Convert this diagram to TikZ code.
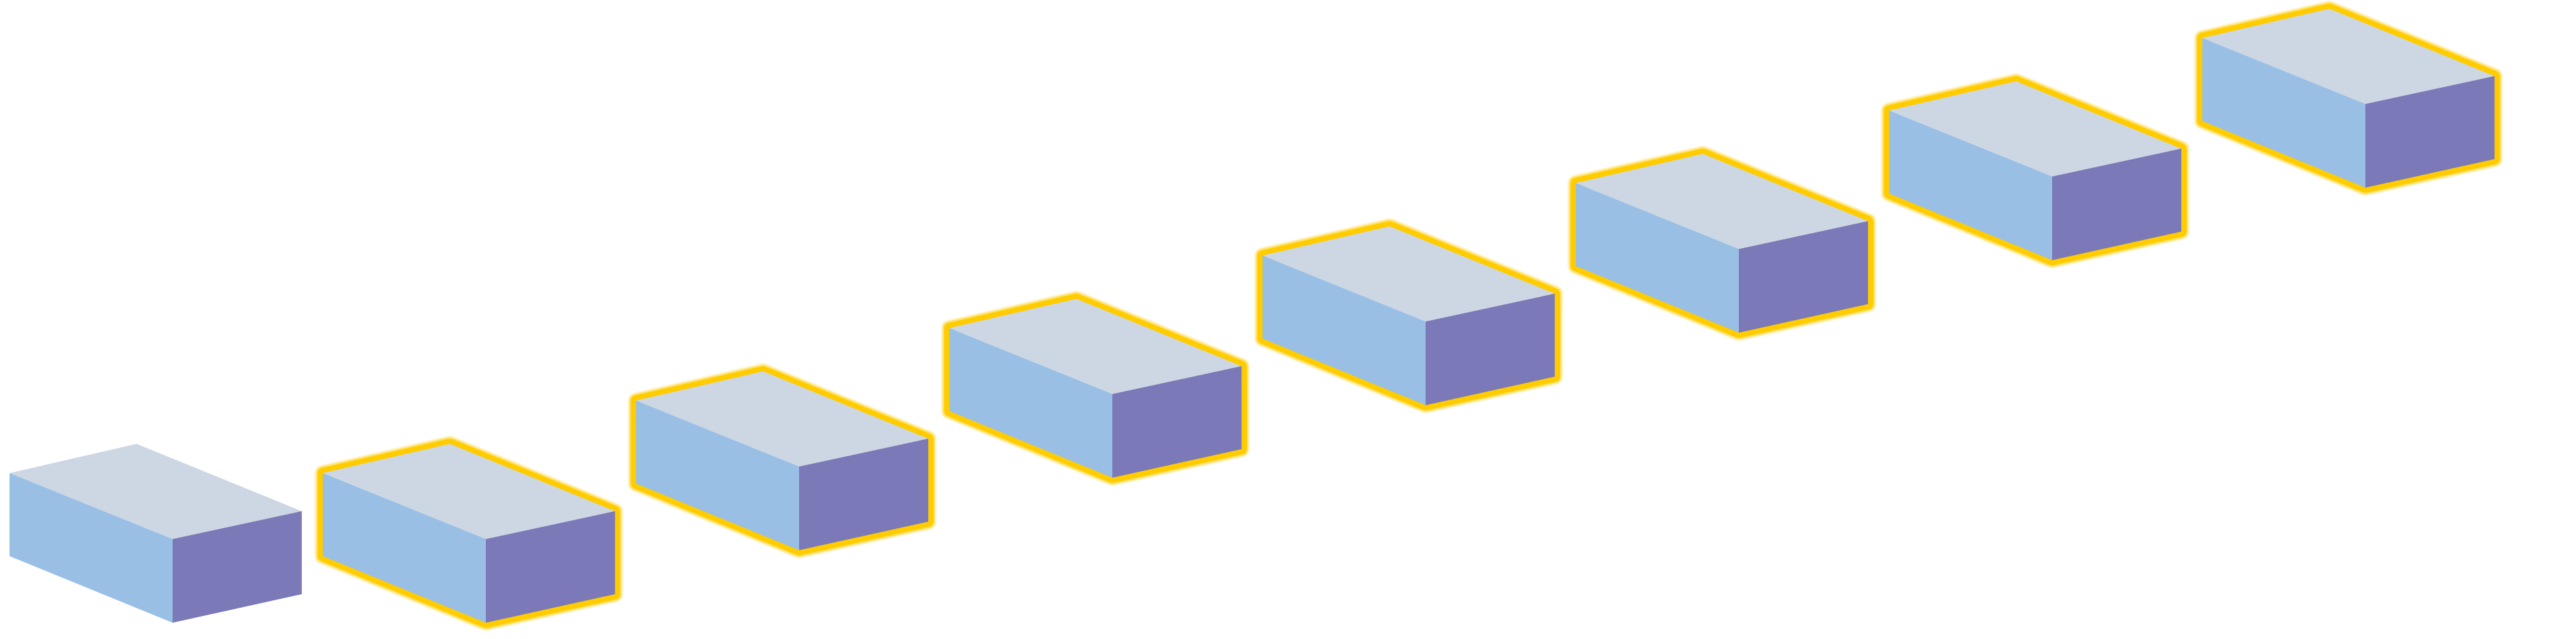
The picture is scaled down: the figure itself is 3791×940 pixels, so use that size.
\documentclass[tikz,border=0pt]{standalone}
\definecolor{topface}{HTML}{CDD7E4}
\definecolor{leftface}{HTML}{9ABFE5}
\definecolor{rightface}{HTML}{7B79B8}
\definecolor{glowgold}{HTML}{FFCC00}
\tikzset{
  cuboid/.pic={
    \fill[topface](0,0)--(187,-43)--(430,56)--(240,97)--cycle;
    \fill[leftface](0,0)--(240,97)--(240,220)--(0,122)--cycle;
    \fill[rightface](240,97)--(430,56)--(430,178)--(240,220)--cycle;
  },
  glowrim/.pic={
    \draw[glowgold,opacity=0.2,line width=7pt](0,0)--(187,-43)--(430,56)--(430,178)--(240,220)--(0,122)--cycle;
    \draw[glowgold,opacity=0.45,line width=5.8pt](0,0)--(187,-43)--(430,56)--(430,178)--(240,220)--(0,122)--cycle;
    \draw[glowgold,line width=4.4pt](0,0)--(187,-43)--(430,56)--(430,178)--(240,220)--(0,122)--cycle;
  }
}
\begin{document}
\begin{tikzpicture}[x=0.01cm,y=-0.01cm,line join=round]
  \useasboundingbox(0,0)rectangle(3791,940);
  \foreach \i in {1,...,8}{
    \pgfmathsetmacro\bx{14+461*(\i-1)}
    \pgfmathsetmacro\by{696-106.67*max(\i-2,0)}
    \ifnum\i>1 \pic at(\bx,\by){glowrim};\fi
    \pic at(\bx,\by){cuboid};
  }
\end{tikzpicture}
\end{document}
